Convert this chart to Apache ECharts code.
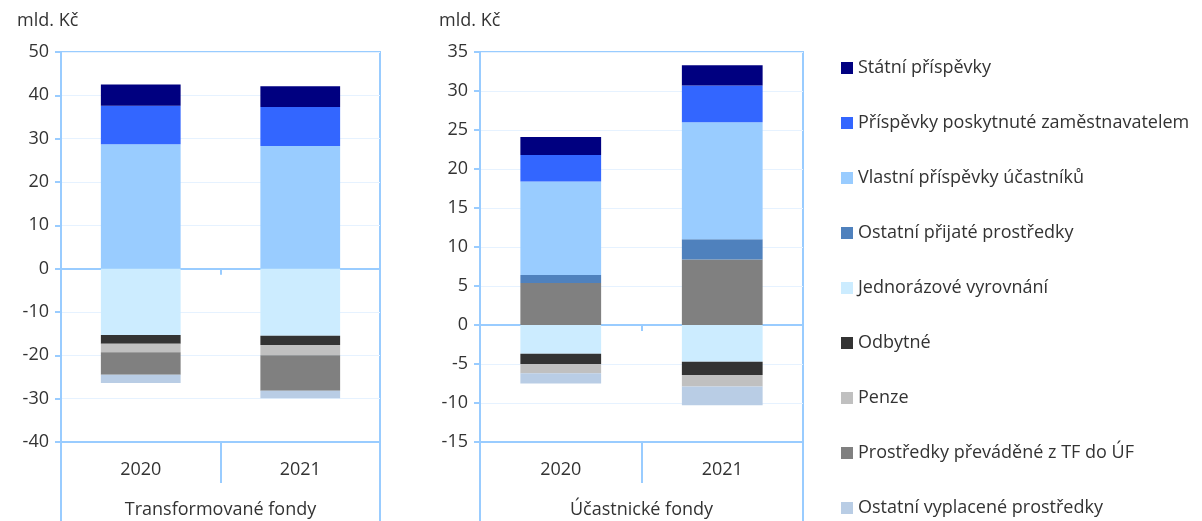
<!DOCTYPE html>
<html>
<head>
<meta charset="utf-8">
<script src="https://cdn.jsdelivr.net/npm/echarts@6/dist/echarts.min.js"></script>
<style>
  html, body { margin: 0; padding: 0; background: #fff; }
  #chart { width: 1202px; height: 521px; }
</style>
</head>
<body>
<div id="chart"></div>
<script>
// kategorie
var years = ['2020', '2021'];
var groupTF = ['Transformované fondy'];
var groupUF = ['Účastnické fondy'];

// Transformované fondy (mld. Kč)
var tfStatni = [4.9, 4.8];
var tfZamest = [8.9, 9.0];
var tfVlastni = [28.7, 28.3];
var tfJednoraz = [-15.3, -15.5];
var tfOdbytne = [-2.0, -2.1];
var tfPenze = [-2.0, -2.4];
var tfPrevadene = [-5.2, -8.2];
var tfOstVypl = [-1.9, -1.7];

// Účastnické fondy (mld. Kč)
var ufPrevadene = [5.4, 8.4];
var ufOstPrij = [1.0, 2.6];
var ufVlastni = [12.0, 15.0];
var ufZamest = [3.4, 4.7];
var ufStatni = [2.3, 2.6];
var ufJednoraz = [-3.7, -4.7];
var ufOdbytne = [-1.3, -1.7];
var ufPenze = [-1.2, -1.5];
var ufOstVypl = [-1.3, -2.4];

var legendNames = [
    'Státní příspěvky',
    'Příspěvky poskytnuté zaměstnavatelem',
    'Vlastní příspěvky účastníků',
    'Ostatní přijaté prostředky',
    'Jednorázové vyrovnání',
    'Odbytné',
    'Penze',
    'Prostředky převáděné z TF do ÚF',
    'Ostatní vyplacené prostředky'
];

var colors = {
    'Státní příspěvky': '#000080',
    'Příspěvky poskytnuté zaměstnavatelem': '#3366FF',
    'Vlastní příspěvky účastníků': '#99CCFF',
    'Ostatní přijaté prostředky': '#4F81BD',
    'Jednorázové vyrovnání': '#CCECFF',
    'Odbytné': '#333333',
    'Penze': '#C0C0C0',
    'Prostředky převáděné z TF do ÚF': '#808080',
    'Ostatní vyplacené prostředky': '#B9CDE5'
};

var axisColor = '#99CCFF';
var textColor = '#333333';
var font = 'Open Sans';

function bar(name, data, idx) {
    return {
        name: name,
        type: 'bar',
        stack: 'g' + idx,
        xAxisIndex: idx * 3,
        yAxisIndex: idx,
        barWidth: '50%',
        data: data,
        itemStyle: { color: colors[name] },
        emphasis: { disabled: true }
    };
}

// tri osy x na graf: nula, roky, skupina
function xAxes(idx, group) {
    return [{
        type: 'category', gridIndex: idx, data: years,
        axisLine: { onZero: true, lineStyle: { color: axisColor, width: 2 } },
        axisTick: { show: true, length: 6, lineStyle: { color: axisColor, width: 2 } },
        axisLabel: { show: false },
        splitLine: { show: false }
    }, {
        type: 'category', gridIndex: idx, data: years, position: 'bottom',
        axisLine: { show: true, onZero: false, lineStyle: { color: axisColor, width: 2 } },
        axisTick: { show: true, length: 41, lineStyle: { color: axisColor, width: 2 } },
        axisLabel: { margin: 19, fontSize: 18, color: textColor, fontFamily: font },
        splitLine: { show: false }
    }, {
        type: 'category', gridIndex: idx, data: group, position: 'bottom',
        axisLine: { show: false, onZero: false },
        axisTick: { show: true, length: 80, lineStyle: { color: axisColor, width: 2 } },
        axisLabel: { margin: 59, fontSize: 18, color: textColor, fontFamily: font },
        splitLine: { show: false }
    }];
}

function yAxis(idx, min, max, step) {
    return {
        type: 'value', gridIndex: idx, min: min, max: max, interval: step,
        axisLine: { show: true, lineStyle: { color: axisColor, width: 2 } },
        axisTick: { show: true, length: 6, lineStyle: { color: axisColor, width: 2 } },
        axisLabel: { margin: 12, fontSize: 18, color: textColor, fontFamily: font },
        splitLine: { lineStyle: { color: '#E6F2FF', width: 1 } }
    };
}

var myChart = echarts.init(document.getElementById('chart'));

var option = {
    animation: false,
    textStyle: { fontFamily: font },
    title: [
        { text: 'mld. Kč', left: 17, top: 12, padding: 0, textStyle: { fontSize: 18, fontWeight: 'normal', color: textColor, fontFamily: font } },
        { text: 'mld. Kč', left: 439, top: 12, padding: 0, textStyle: { fontSize: 18, fontWeight: 'normal', color: textColor, fontFamily: font } }
    ],
    legend: {
        orient: 'vertical',
        left: 841,
        top: 59,
        padding: 0,
        itemWidth: 12,
        itemHeight: 12,
        itemGap: 37,
        icon: 'rect',
        data: legendNames,
        textStyle: { fontSize: 18, color: textColor, fontFamily: font },
        selectedMode: false
    },
    grid: [
        { left: 61, right: 822, top: 52, bottom: 79, show: true, borderColor: axisColor, borderWidth: 2, outerBoundsMode: 'none' },
        { left: 480, right: 399, top: 52, bottom: 79, show: true, borderColor: axisColor, borderWidth: 2, outerBoundsMode: 'none' }
    ],
    xAxis: xAxes(0, groupTF).concat(xAxes(1, groupUF)),
    yAxis: [yAxis(0, -40, 50, 10), yAxis(1, -15, 35, 5)],
    series: [
        bar('Vlastní příspěvky účastníků', tfVlastni, 0),
        bar('Příspěvky poskytnuté zaměstnavatelem', tfZamest, 0),
        bar('Státní příspěvky', tfStatni, 0),
        bar('Jednorázové vyrovnání', tfJednoraz, 0),
        bar('Odbytné', tfOdbytne, 0),
        bar('Penze', tfPenze, 0),
        bar('Prostředky převáděné z TF do ÚF', tfPrevadene, 0),
        bar('Ostatní vyplacené prostředky', tfOstVypl, 0),

        bar('Prostředky převáděné z TF do ÚF', ufPrevadene, 1),
        bar('Ostatní přijaté prostředky', ufOstPrij, 1),
        bar('Vlastní příspěvky účastníků', ufVlastni, 1),
        bar('Příspěvky poskytnuté zaměstnavatelem', ufZamest, 1),
        bar('Státní příspěvky', ufStatni, 1),
        bar('Jednorázové vyrovnání', ufJednoraz, 1),
        bar('Odbytné', ufOdbytne, 1),
        bar('Penze', ufPenze, 1),
        bar('Ostatní vyplacené prostředky', ufOstVypl, 1)
    ]
};

myChart.setOption(option);
</script>
</body>
</html>
